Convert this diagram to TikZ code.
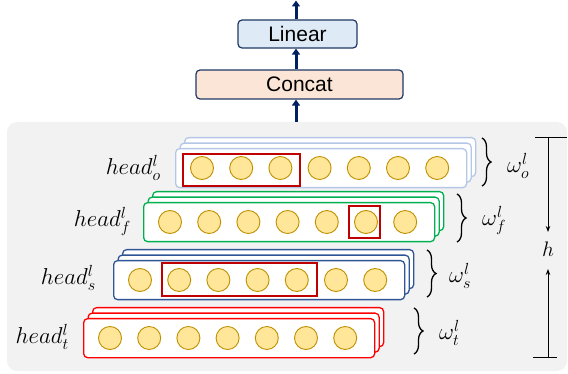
\RequirePackage{fix-cm}
\documentclass[tikz,border=0pt]{standalone}
\usepackage{fontspec}
\setmainfont{Liberation Sans}
\usetikzlibrary{arrows.meta,decorations.pathreplacing,calc}
\definecolor{bggray}{HTML}{F2F2F2}
\definecolor{navy}{HTML}{002060}
\definecolor{boxedge}{HTML}{203864}
\definecolor{linfill}{HTML}{DEEBF7}
\definecolor{catfill}{HTML}{FBE5D6}
\definecolor{rowo}{HTML}{B4C7E7}
\definecolor{rowf}{HTML}{00B050}
\definecolor{rows}{HTML}{2F5597}
\definecolor{rowt}{HTML}{FF0000}
\definecolor{selred}{HTML}{C00000}
\definecolor{circfill}{HTML}{FFE699}
\definecolor{circedge}{HTML}{BF9000}
\tikzset{
  layer/.style={draw, fill=white, anchor=north west, minimum width=291pt, minimum height=39pt,
    inner sep=0pt, rounded corners=4pt, line width=1.3pt},
  circ/.style={circle, draw=circedge, fill=circfill, line width=0.9pt, minimum size=23pt, inner sep=0pt},
  selbox/.style={draw=selred, line width=1.5pt},
  topbox/.style={draw=boxedge, line width=1.2pt, rounded corners=4pt, inner sep=0pt,
    font=\fontsize{21}{24}\selectfont},
  navyarrow/.style={draw=navy, line width=3pt, -{Triangle[length=6pt,width=8pt]}},
  hlab/.style={font=\fontsize{23}{27}\selectfont, inner sep=0pt},
  brc/.style={decorate, decoration={brace, amplitude=9pt, aspect=0.5}, line width=1.3pt},
  dimarrow/.style={line width=0.9pt, -{Stealth[length=6pt,width=4.5pt]}}
}
\newcommand\layrow[4]{%
  \foreach \k in {2,1}{\node[layer,draw=#4] (#1b\k) at ({#2+4.5*\k},{#3-5.5*\k}) {};}
  \node[layer,draw=#4] (#1) at (#2,#3) {};
  \foreach \i in {0,...,6}{\node[circ] (#1c\i) at ({#2+27+39.2*\i},{#3+20}) {};}
}
\begin{document}
\begin{tikzpicture}[x=1pt,y=-1pt]
\useasboundingbox (0,0) rectangle (568,374);
\fill[bggray, rounded corners=10pt] (7,122) rectangle (567,371);

% top boxes
\node[topbox, fill=linfill, minimum width=119pt, minimum height=28pt] (lin) at (297.5,34) {Linear};
\node[topbox, fill=catfill, minimum width=207pt, minimum height=29pt] (cat) at (299.5,84.5) {Concat};
\coordinate (out) at (296,0.5);
\coordinate (in) at (296,122);
\draw[navyarrow] (lin.north -| out) -- (out);
\draw[navyarrow] (cat.north -| out) -- (lin.south -| out);
\draw[navyarrow] (in) -- (cat.south -| in);

% rows
\layrow{o}{175}{148}{rowo}
\layrow{f}{143}{202}{rowf}
\layrow{s}{113}{260}{rows}
\layrow{t}{83}{318}{rowt}

% selections
\draw[selbox] (183,154) rectangle (300,186);
\draw[selbox] (349,206) rectangle (380,238);
\draw[selbox] (162,263) rectangle (317,296);

% head labels
\node[hlab, anchor=east] (ho) at (161,168) {$head^l_o$};
\node[hlab, anchor=east] (hf) at (131,221) {$head^l_f$};
\node[hlab, anchor=east] (hs) at (96,278) {$head^l_s$};
\node[hlab, anchor=east] (ht) at (69,337) {$head^l_t$};

% braces
\draw[brc] (482,138) -- (482,186);
\draw[brc] (457,194) -- (457,242);
\draw[brc] (427,250) -- (427,297);
\draw[brc] (414,308) -- (414,354);

% omega labels
\node[hlab, anchor=west] (wo) at (507,166) {$\omega^l_o$};
\node[hlab, anchor=west] (wf) at (482,220) {$\omega^l_f$};
\node[hlab, anchor=west] (ws) at (449,276) {$\omega^l_s$};
\node[hlab, anchor=west] (wt) at (439,333) {$\omega^l_t$};

% h dimension
\coordinate (htop) at (548,137);
\coordinate (hbot) at (548,357);
\node[font=\fontsize{21}{25}\selectfont, inner sep=0pt] (hl) at (548,249) {$h$};
\draw[line width=0.9pt] ([xshift=-13pt]htop) -- ([xshift=19pt]htop);
\draw[line width=0.9pt] ([xshift=-15pt]hbot) -- ([xshift=9pt]hbot);
\draw[dimarrow] (htop) -- ([yshift=17pt]hl.center);
\draw[dimarrow] (hbot) -- ([yshift=-20pt]hl.center);
\end{tikzpicture}
\end{document}
